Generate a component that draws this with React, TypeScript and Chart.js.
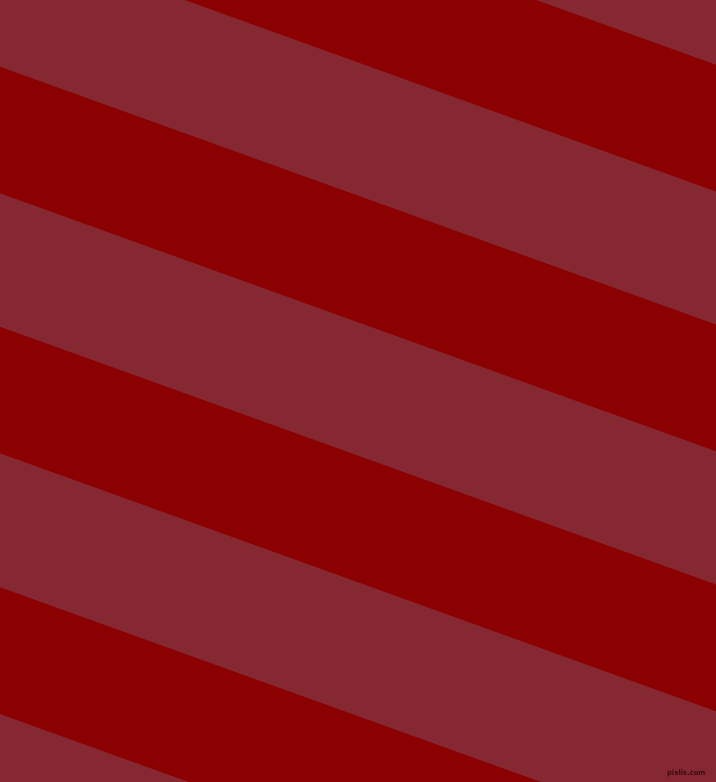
import React, { useEffect, useRef } from 'react'
import Chart from 'chart.js/auto'

// boundaries of the dark stripes, read at the left edge (x = 0) and right edge (x = 716)
const stripeTopLeft = [-193.3, 66.7, 326.7, 587.3]
const stripeBottomLeft = [-66.7, 193.3, 453.3, 714]
const stripeTopRight = [64.8, 324.6, 584.6, 845]
const stripeBottomRight = [191.6, 451.2, 711.2, 972]

const WIDTH = 716
const HEIGHT = 782
const LIGHT = '#862832'
const DARK = '#8b0000'

export default function App() {
  const canvasRef = useRef<HTMLCanvasElement>(null)
  const chartRef = useRef<Chart | null>(null)

  useEffect(() => {
    document.body.style.margin = '0'
    if (!canvasRef.current) return
    const ctx = canvasRef.current.getContext('2d')
    if (!ctx) return

    const datasets: any[] = []
    stripeTopLeft.forEach((top, i) => {
      datasets.push({
        data: [{ x: 0, y: top }, { x: WIDTH, y: stripeTopRight[i] }],
        borderWidth: 0,
        pointRadius: 0,
        backgroundColor: DARK,
        fill: '+1',
      })
      datasets.push({
        data: [{ x: 0, y: stripeBottomLeft[i] }, { x: WIDTH, y: stripeBottomRight[i] }],
        borderWidth: 0,
        pointRadius: 0,
        fill: false,
      })
    })

    chartRef.current = new Chart(ctx, {
      type: 'line',
      data: { datasets },
      options: {
        responsive: false,
        animation: false,
        layout: { padding: 0 },
        plugins: { legend: { display: false }, tooltip: { enabled: false } },
        scales: {
          x: { type: 'linear', min: 0, max: WIDTH, display: false },
          y: { type: 'linear', min: 0, max: HEIGHT, reverse: true, display: false },
        },
      },
    })

    return () => {
      if (chartRef.current) { chartRef.current.destroy(); chartRef.current = null }
    }
  }, [])

  return (
    <div style={{ position: 'fixed', left: 0, top: 0, width: WIDTH, height: HEIGHT, background: LIGHT, overflow: 'hidden' }}>
      <canvas ref={canvasRef} width={WIDTH} height={HEIGHT} style={{ display: 'block', width: WIDTH, height: HEIGHT }} />
      {/* small watermark, bottom right */}
      <span
        style={{
          position: 'absolute',
          left: 667,
          top: 769,
          fontFamily: '"DejaVu Sans Condensed", "DejaVu Sans", sans-serif',
          fontSize: 7.5,
          fontWeight: 'bold',
          lineHeight: 1,
          color: '#3e0a12',
          whiteSpace: 'nowrap',
        }}
      >
        pixlis.com
      </span>
    </div>
  )
}
